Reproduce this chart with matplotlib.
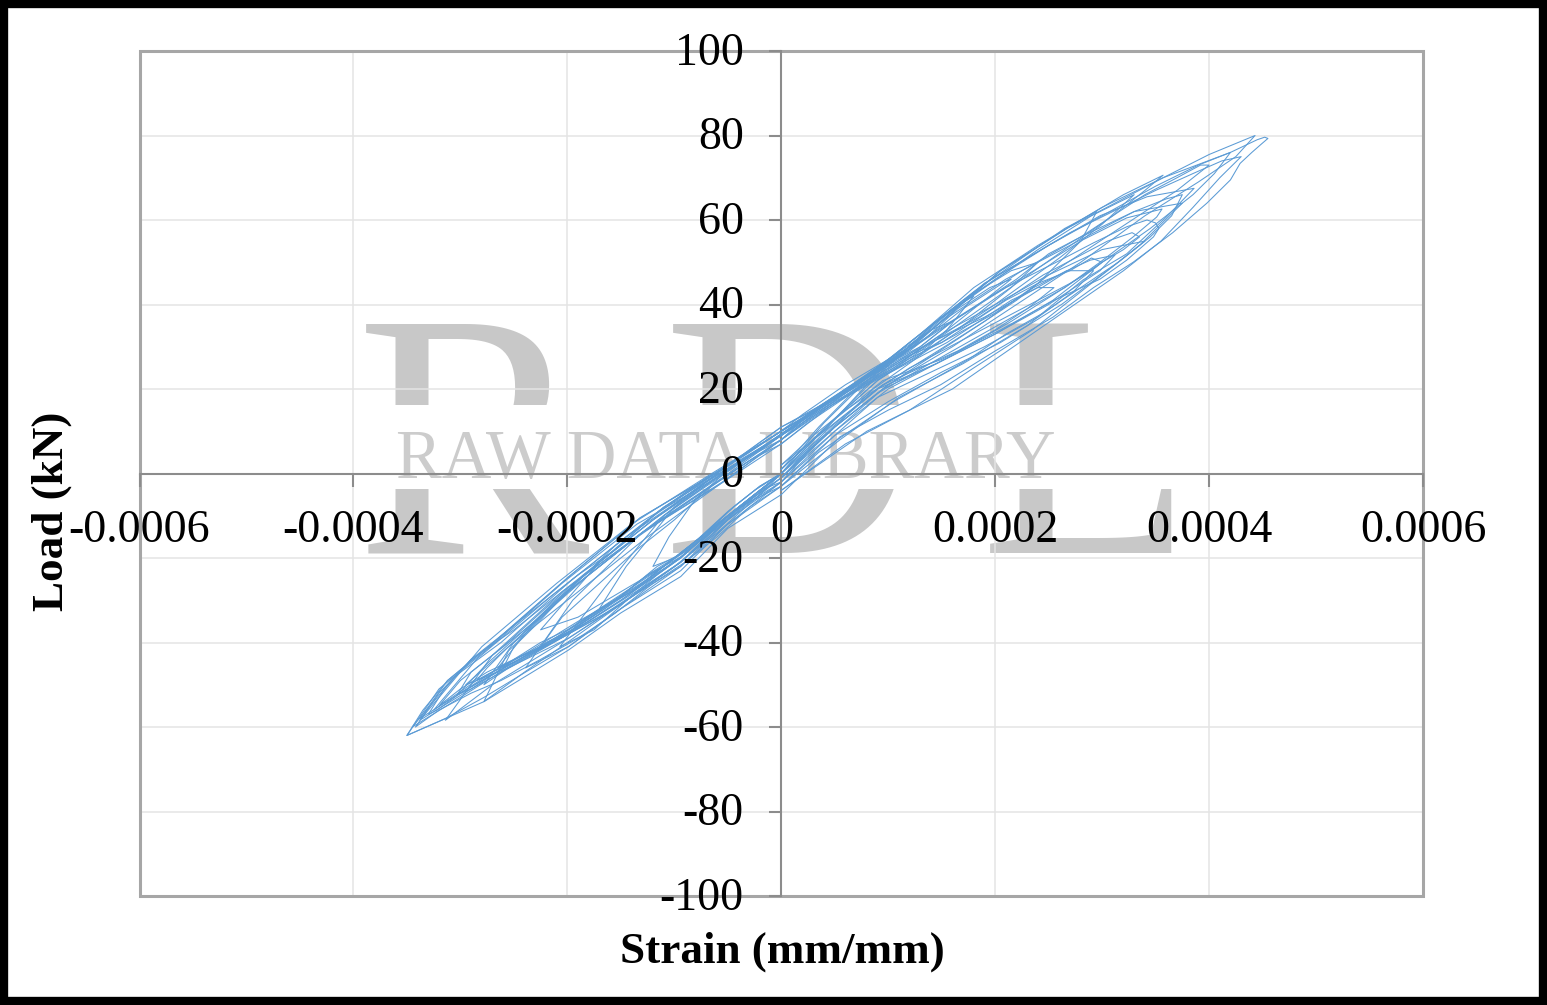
import numpy as np
import matplotlib
matplotlib.use("Agg")
import matplotlib.pyplot as plt
from matplotlib.patches import Rectangle
from matplotlib.transforms import ScaledTranslation

# Strain in units of 1e-6 mm/mm, load in kN; each cycle
c01_x = [0, 40, 80, 120, 100, 70, 40, 0, -40, -80, -105, -120, -100, -60, -20, 0]
c01_y = [2, 10, 21, 30, 27, 21, 16, 9, 3, -6, -15, -22, -20, -12, -4, 0]
c02_x = [0, 46, 86, 125, 155, 180, 160, 120, 86, 46, 0, -50, -100, -145, -170, -140, -100, -60, -20, 0]
c02_y = [0, 10, 20, 27, 34, 42, 39, 31, 24, 17, 10, 2, -8, -22, -32, -28, -20, -13, -4, 0]
c03_x = [0, 46, 86, 130, 175, 215, 240, 215, 170, 120, 86, 46, 0, -55, -110, -165, -207, -175, -140, -100, -60, -20, 0]
c03_y = [1, 12, 22, 28, 36, 44, 50, 48, 41, 30, 24, 17, 9, 0, -10, -27, -41, -37, -29, -22, -14, -5, 0]
c04_x = [0, 50, 90, 140, 190, 240, 273, 292, 267, 236, 200, 150, 118, 86, 46, 0, -55, -130, -195, -239, -199, -150, -94, -50, 0]
c04_y = [-2, 9, 18, 24, 30, 37, 43, 48, 48, 44, 38, 31, 27, 22, 16, 8, -2, -14, -30, -46, -41, -32, -22, -12, -2]
c05_x = [0, 46, 90, 145, 200, 250, 298, 312, 289, 267, 236, 190, 140, 90, 46, 0, -60, -130, -200, -255, -278, -240, -200, -150, -94, -50, 0]
c05_y = [0, 11, 20, 26, 33, 40, 48, 51.7, 50.5, 48, 43.5, 37, 31, 23, 16, 7, -3, -14, -28, -42, -54, -47, -40, -31, -21, -11, 0]
c06_x = [0, 46, 95, 150, 205, 255, 298, 323, 348, 353, 350, 342, 323, 292, 261, 210, 160, 118, 86, 46, 0, -55, -125, -199, -260, -290, -303, -260, -199, -150, -94, -50, 0]
c06_y = [0, 12, 22, 27, 34, 41, 46, 50.5, 56, 58, 59.3, 60, 58.4, 54.6, 50.5, 44, 36, 29, 23, 16, 9, -1, -13, -27, -41, -47, -52.4, -46, -38, -30, -20, -10, 0]
c07_x = [0, 50, 100, 160, 215, 265, 298, 329, 351, 356, 323, 282, 236, 190, 140, 100, 60, 0, -60, -130, -205, -270, -314, -270, -199, -150, -94, -50, 0]
c07_y = [-1, 10, 20, 28, 36, 44, 50, 56, 60.7, 62.6, 60.5, 55.3, 48, 41, 33, 26, 19, 8, -2, -14, -28, -43, -58.4, -50, -39, -31, -21, -10, -1]
c08_x = [0, 55, 110, 170, 230, 282, 323, 360, 386, 342, 298, 250, 200, 150, 110, 80, 40, 0, -65, -140, -210, -280, -338, -290, -240, -199, -150, -94, -50, 0]
c08_y = [-3, 8, 18, 26, 35, 45.8, 52, 60.7, 67.5, 65.5, 61, 54, 46, 37, 28, 22, 16, 10, 0, -12, -26, -41, -58.4, -51, -44, -38, -30, -20, -10, -2]
c09_x = [0, 50, 90, 130, 175, 220, 265, 310, 340, 357, 320, 267, 205, 150, 118, 86, 46, 0, -55, -132, -199, -269, -312, -338, -300, -241, -199, -150, -94, -50, 0]
c09_y = [1, 13, 22, 29, 37, 45, 53, 61, 67, 70.6, 66, 58, 48, 36, 29.2, 23.8, 17.4, 11, 1, -10.5, -24.5, -40, -49, -58, -52, -43.4, -37.7, -29, -20, -10, 0]
c10_x = [0, 50, 95, 145, 200, 254, 300, 345, 385, 405, 420, 390, 350, 300, 250, 190, 140, 100, 60, 0, -60, -135, -205, -272, -320, -350, -314, -278, -239, -199, -150, -94, -50, 0]
c10_y = [-2, 10, 20, 26, 33, 41, 50, 58, 66, 71, 76, 73, 68, 61, 54, 45, 34, 27, 20, 9, -1, -12, -26, -41, -51, -62, -58, -53, -47, -41, -32, -23, -12, -3]
c11_x = [0, 55, 100, 149, 200, 254, 292, 329, 366, 398, 420, 429, 440, 449, 455, 452, 445, 420, 357, 267, 205, 118, 86, 46, 0, -55, -132, -199, -269, -312, -335, -350, -314, -278, -239, -199, -150, -94, -50, 0]
c11_y = [-5, 8.7, 15, 21, 29, 37, 44, 50, 57, 64, 69.5, 73.4, 76, 78, 79.3, 79.6, 79, 76, 70, 58, 48, 29, 24, 17, 11, 1, -10.5, -24.5, -40, -49, -56, -62, -58, -54, -48, -41.8, -33, -24.4, -13, -5]
c12_x = [0, 50, 100, 160, 220, 280, 340, 390, 425, 443, 400, 357, 300, 240, 180, 130, 86, 46, 0, -50, -125, -195, -262, -305, -345, -300, -250, -199, -150, -94, -50, 0]
c12_y = [-1, 11, 21, 30, 40, 50, 61, 69, 75, 80, 75.5, 70, 63, 54, 44, 33, 24, 17, 10, 2, -11, -25, -40, -48, -60, -53, -45, -38, -31, -21, -10, -1]
c13_x = [0, 50, 100, 150, 205, 262, 310, 340, 300, 250, 200, 150, 105, 70, 30, 0, -60, -125, -190, -255, -295, -255, -199, -145, -94, -50, 0]
c13_y = [-3, 9, 17, 24, 31, 40, 49, 55, 53, 47, 40, 33, 25, 20, 14, 8, -3, -15, -28, -41, -50, -46, -39, -30, -22, -11, -2]
c14_x = [0, 48, 95, 140, 190, 240, 280, 295, 265, 225, 180, 130, 95, 55, 0, -60, -120, -185, -230, -265, -225, -180, -130, -94, -50, 0]
c14_y = [-1, 11, 21, 28, 36, 45, 55, 62, 58, 51, 43, 33, 26, 19, 10, 0, -11, -24, -35, -46, -41, -35, -27, -21, -11, -1]
c15_x = [0, 46, 90, 140, 200, 260, 300, 330, 290, 240, 190, 140, 100, 60, 20, 0, -50, -110, -170, -225, -190, -150, -110, -70, -30, 0]
c15_y = [0, 12, 22, 30, 40, 51, 59, 66, 61, 53, 44, 35, 27, 21, 14, 10, 2, -8, -21, -37, -34, -28, -22, -15, -6, 0]
c16_x = [0, 60, 120, 180, 235, 290, 335, 375, 330, 280, 225, 170, 120, 80, 30, 0, -70, -145, -215, -285, -325, -285, -235, -190, -140, -90, -40, 0]
c16_y = [-4, 7, 15, 25, 34, 45, 54, 64, 62, 56, 48, 39, 29, 23, 15, 9, -2, -15, -29, -44, -56, -49, -42, -35, -28, -19, -8, -3]
c17_x = [0, 25, 50, 75, 100, 130, 160, 190, 220, 250, 280, 310, 340, 370, 390, 400, 392, 370, 340, 310, 280, 250, 220, 190, 160, 130, 100, 70, 40, 10, -20, -50, -85, -120, -155, -190, -225, -260, -290, -315, -330, -322, -300, -270, -241, -215, -190, -165, -140, -116, -94, -70, -45, -20, 0]
c17_y = [-2, 5, 11, 16, 21, 26, 31, 36, 41, 47, 52, 57, 62, 67, 71, 73, 73, 70, 66, 61, 56, 52, 46, 41, 36, 30, 26, 21, 16, 11, 6, 1, -5, -11, -18, -24, -31, -38, -44, -51, -57, -56, -52, -47, -43, -40, -36, -32, -27, -22, -19, -14, -9, -4, 0]
c18_x = [0, 30, 60, 90, 120, 150, 180, 210, 240, 270, 290, 300, 290, 270, 240, 210, 180, 150, 120, 90, 60, 30, 0, -30, -60, -95, -130, -165, -200, -230, -250, -260, -250, -225, -199, -175, -150, -125, -100, -75, -50, -25, 0]
c18_y = [1, 8, 14, 20, 25, 29, 33, 37, 41, 45, 48, 50, 51, 48, 45, 41, 36, 31, 28, 24, 20, 15, 8, 4, -1, -7, -14, -21, -28, -36, -41, -46, -44, -41, -37, -33, -29, -24, -20, -15, -10, -5, 0]
c19_x = [0, 30, 60, 90, 125, 160, 195, 230, 265, 300, 320, 335, 328, 305, 275, 245, 215, 185, 155, 125, 95, 60, 25, 0, -30, -65, -100, -140, -180, -220, -255, -275, -285, -270, -245, -220, -195, -165, -135, -105, -75, -45, -20, 0]
c19_y = [-1, 7, 13, 19, 24, 29, 34, 39, 44, 50, 53, 56, 57, 55, 51, 47, 42, 37, 33, 29, 25, 19, 13, 8, 3, -3, -9, -16, -24, -33, -41, -46, -49, -47, -44, -40, -37, -32, -27, -21, -15, -8, -3, 0]
c20_x = [0, 35, 70, 105, 140, 175, 210, 245, 280, 315, 345, 365, 375, 360, 330, 300, 270, 240, 210, 180, 150, 120, 90, 60, 30, 0, -35, -70, -110, -150, -190, -230, -270, -300, -320, -300, -275, -250, -225, -200, -170, -140, -110, -80, -50, -20, 0]
c20_y = [-3, 5, 11, 17, 22, 27, 33, 38, 44, 50, 56, 61, 66, 65, 62, 58, 54, 50, 46, 41, 36, 30, 25, 20, 15, 9, 3, -3, -10, -18, -26, -35, -43, -49, -55, -51, -47, -44, -40, -37, -32, -27, -22, -16, -10, -4, -2]
c21_x = [0, 30, 60, 95, 130, 165, 200, 230, 255, 240, 215, 185, 155, 125, 95, 60, 25, 0, -30, -65, -100, -135, -170, -205, -225, -205, -180, -155, -130, -105, -80, -50, -25, 0]
c21_y = [2, 9, 15, 21, 25, 29, 34, 39, 44, 44, 41, 36, 31, 27, 23, 18, 12, 7, 3, -3, -11, -18, -26, -34, -41, -38, -34, -30, -26, -21, -16, -9, -4, 0]
c22_x = [0, 40, 80, 120, 160, 200, 240, 280, 320, 355, 385, 410, 430, 412, 385, 350, 310, 270, 230, 190, 150, 110, 75, 40, 5, -30, -70, -115, -160, -205, -250, -290, -320, -342, -320, -290, -262, -225, -190, -155, -120, -90, -60, -30, 0]
c22_y = [-4, 3, 10, 15, 20, 27, 34, 41, 48, 55, 63, 70, 75, 74, 71, 67, 62, 57, 51, 45, 37, 28, 22, 16, 11, 5, -1, -9, -19, -28, -37, -44, -52, -60, -56, -52, -49, -44, -39, -33, -26, -21, -15, -8, -3]
c23_x = [0, 40, 80, 115, 150, 185, 215, 195, 165, 135, 105, 75, 45, 15, -25, -65, -110, -155, -200, -240, -275, -303, -290, -272, -241, -215, -199, -175, -150, -125, -94, -70, -45, -20, 0]
c23_y = [0, 12, 22, 27, 33, 40, 46, 44, 39, 32, 27, 22, 17, 12, 5, -1, -8, -17, -28, -37, -45, -52.4, -51, -48, -43.4, -40, -37.7, -33, -29, -24, -19.8, -14, -8, -3, 0]
c24_x = [0, 35, 70, 100, 130, 160, 140, 115, 85, 50, 15, -25, -70, -120, -170, -215, -250, -278, -255, -228, -199, -170, -140, -116, -90, -60, -30, 0]
c24_y = [1, 11, 20, 25, 30, 36, 34, 29, 24, 18, 12, 5, -2, -11, -21, -31, -40, -50, -46, -42, -38, -34, -29, -24, -19, -12, -6, 0]

cycles_x = [c01_x, c02_x, c03_x, c04_x, c05_x, c06_x, c07_x, c08_x,
            c09_x, c10_x, c11_x, c12_x, c13_x, c14_x, c15_x, c16_x,
            c17_x, c18_x, c19_x, c20_x, c21_x, c22_x, c23_x, c24_x]
cycles_y = [c01_y, c02_y, c03_y, c04_y, c05_y, c06_y, c07_y, c08_y,
            c09_y, c10_y, c11_y, c12_y, c13_y, c14_y, c15_y, c16_y,
            c17_y, c18_y, c19_y, c20_y, c21_y, c22_y, c23_y, c24_y]
strain_scale = 1e-6

x_ticks = [-0.0006, -0.0004, -0.0002, 0, 0.0002, 0.0004, 0.0006]
x_tick_labels = ["-0.0006", "-0.0004", "-0.0002", "0", "0.0002", "0.0004", "0.0006"]
y_ticks = [-100, -80, -60, -40, -20, 0, 20, 40, 60, 80, 100]
x_title = "Strain (mm/mm)"
y_title = "Load (kN)"

W, H = 1547, 1005
SERIF = "Liberation Serif"
AXIS = "#8C8C8C"
BOX = "#A6A6A6"
GRID = "#E4E4E4"
LINE = "#5B9BD5"
MARK = "#C8C8C8"
fig = plt.figure(figsize=(W / 100, H / 100), dpi=100, facecolor="white")

# Watermark, underneath everything
bg = fig.add_axes([0, 0, 1, 1], zorder=0)
bg.set_xlim(0, W)
bg.set_ylim(H, 0)
bg.axis("off")
for s, cx in zip("RDL", [473, 789, 1087]):
    bg.text(cx, 553, s, family=SERIF, fontsize=252, color=MARK, ha="center", va="baseline", zorder=1)
bg.add_patch(Rectangle((345, 405), 850, 84, fc="white", ec="none", zorder=2))
bg.text(726, 478, "RAW DATA LIBRARY", family=SERIF, fontsize=49.5, color="#CCCCCC", ha="center", va="baseline", zorder=3)

L, R, T, B = 139.5, 1423, 51, 896
rect = [L / W, 1 - B / H, (R - L) / W, (B - T) / H]

# Gridlines on their own axes, below the curve
gax = fig.add_axes(rect, zorder=1)
gax.patch.set_alpha(0)
gax.set_xlim(-0.0006, 0.0006)
gax.set_ylim(-100, 100)
gax.set_xticks(x_ticks)
gax.set_yticks(y_ticks)
gax.grid(True, color=GRID, lw=1.1)
gax.tick_params(left=False, bottom=False, labelleft=False, labelbottom=False)
for sp in gax.spines.values():
    sp.set_visible(False)

ax = fig.add_axes(rect, zorder=2)
ax.patch.set_alpha(0)
ax.set_xlim(-0.0006, 0.0006)
ax.set_ylim(-100, 100)
ax.grid(False)
for sp in ["top", "right"]:
    ax.spines[sp].set_visible(False)
ax.spines["left"].set_position("zero")
ax.spines["bottom"].set_position("zero")
for sp in ["left", "bottom"]:
    ax.spines[sp].set_color(AXIS)
    ax.spines[sp].set_linewidth(1.5)
    ax.spines[sp].set_zorder(2)
ax.add_patch(Rectangle((0, 0), 1, 1, transform=ax.transAxes, fill=False, ec=BOX, lw=2.2, clip_on=False, zorder=1))

ax.set_xticks(x_ticks)
ax.set_xticklabels(x_tick_labels)
ax.set_yticks(y_ticks)
ax.set_yticklabels([str(v) for v in y_ticks])
ax.tick_params(axis="both", direction="out", length=9, width=1.5, color=AXIS, labelcolor="black")
ax.tick_params(axis="x", pad=17)
ax.tick_params(axis="y", pad=18)
ax.xaxis.set_zorder(6)
ax.yaxis.set_zorder(6)
for lab in ax.get_xticklabels() + ax.get_yticklabels():
    lab.set_family(SERIF)
    lab.set_fontsize(33)
up = ScaledTranslation(0, 2.5 / 100, fig.dpi_scale_trans)
for lab in ax.get_yticklabels():
    lab.set_transform(lab.get_transform() + up)

for cx_, cy_ in zip(cycles_x, cycles_y):
    ax.plot(np.array(cx_) * strain_scale, cy_, color=LINE, lw=0.75, solid_joinstyle="round", zorder=3)

fig.text(782 / W, 1 - 952 / H, x_title, family=SERIF, fontsize=32.5, fontweight="bold", ha="center", va="center")
fig.text(52 / W, 1 - 511 / H, y_title, family=SERIF, fontsize=32.5, fontweight="bold", rotation=90, ha="center", va="center")

# Black picture frame
fig.add_artist(Rectangle((4 / W, 4 / H), 1 - 8 / W, 1 - 8 / H, transform=fig.transFigure, fill=False, ec="black", lw=6))

fig.savefig("out.png", dpi=100, facecolor="white")
